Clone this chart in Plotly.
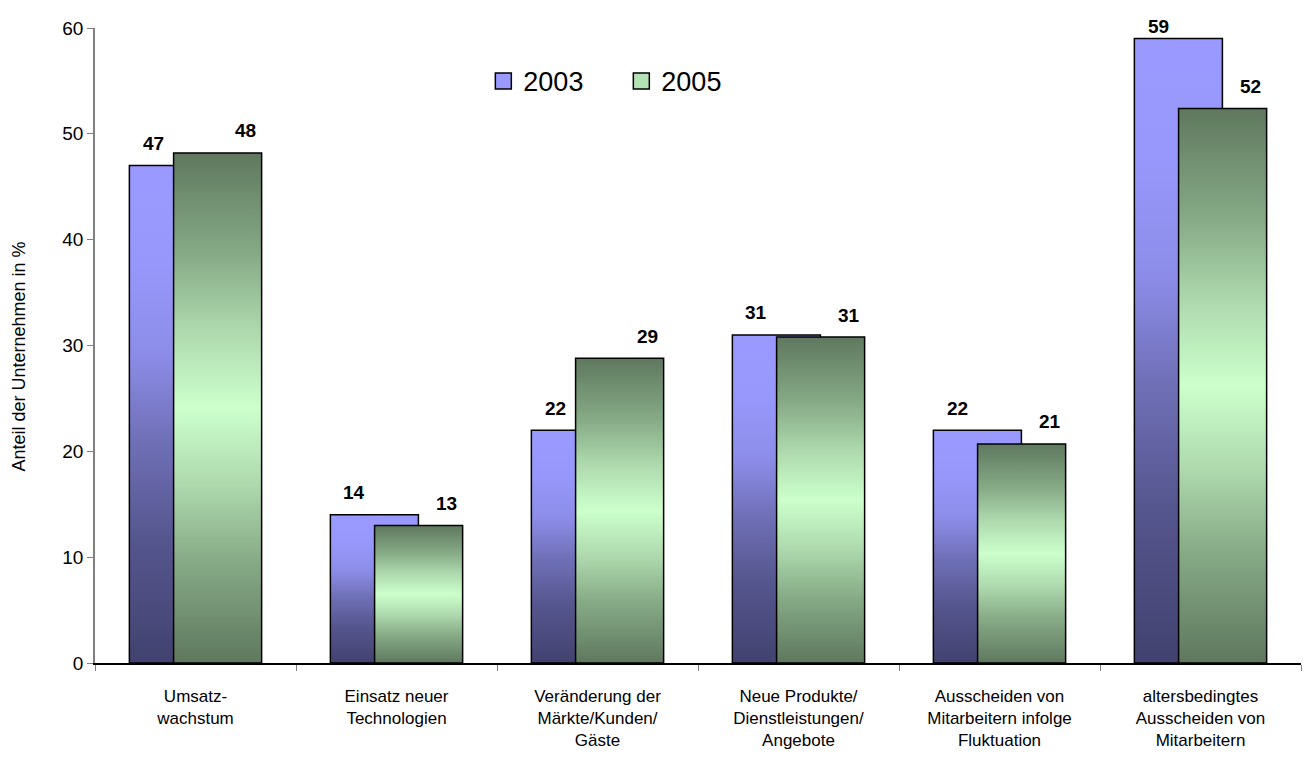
import plotly.graph_objects as go

categories = [
    "Umsatz-<br>wachstum",
    "Einsatz neuer<br>Technologien",
    "Veränderung der<br>Märkte/Kunden/<br>Gäste",
    "Neue Produkte/<br>Dienstleistungen/<br>Angebote",
    "Ausscheiden von<br>Mitarbeitern infolge<br>Fluktuation",
    "altersbedingtes<br>Ausscheiden von<br>Mitarbeitern",
]
series_names = ["2003", "2005"]
values_2003 = [47, 14, 22, 31, 22, 59]
values_2005 = [48.2, 13, 28.8, 30.8, 20.7, 52.4]
y_ticks = [0, 10, 20, 30, 40, 50, 60]
y_title = "Anteil der Unternehmen in %"

FONT = "Arial, Liberation Sans, sans-serif"
BAR_W = 0.438
BAR_OFF = 0.11
LABEL_OFF = {"2003": -0.21, "2005": 0.25}

# page body has an 8px margin -> compensate
PAGE_PAD = 8
W, H = 1311 - PAGE_PAD, 763 - PAGE_PAD
M_L, M_R, M_T, M_B = 95 - PAGE_PAD, 10, 21 - PAGE_PAD, 100
PLOT_H = H - M_T - M_B
Y_MAX = 60
PX_PER_UNIT = PLOT_H / Y_MAX

purple_scale = [[0, "#424270"], [0.25, "#56568f"], [0.45, "#7070b8"],
                [0.62, "#8c8ce8"], [0.8, "#9797fb"], [1, "#9999ff"]]
green_scale = [[0, "#5f785f"], [0.2, "#86aa86"], [0.35, "#aed9ae"],
               [0.5, "#ccffcc"], [0.65, "#aed9ae"], [0.8, "#86aa86"],
               [1, "#5f785f"]]

fig = go.Figure()

series = [
    ("2003", values_2003, -BAR_OFF, purple_scale, "#9999ff"),
    ("2005", values_2005, BAR_OFF, green_scale, "#b4e2b4"),
]

for name, vals, off, scale, legcol in series:
    for i, v in enumerate(vals):
        xc = i + off
        x0, x1 = xc - BAR_W / 2, xc + BAR_W / 2
        fig.add_trace(go.Scatter(
            x=[x0, x0, x1, x1, x0],
            y=[0, v, v, 0, 0],
            mode="lines",
            fill="toself",
            fillgradient=dict(type="vertical", colorscale=scale),
            line=dict(color="black", width=1.5),
            showlegend=False,
            hoverinfo="skip",
        ))
    # legend entry
    fig.add_trace(go.Scatter(
        x=[None], y=[None], mode="markers", name=name,
        marker=dict(symbol="square", size=17, color=legcol,
                    line=dict(color="black", width=1.5)),
    ))

# data labels
for name, vals in [("2003", values_2003), ("2005", values_2005)]:
    for i, v in enumerate(vals):
        shift = min(22, (Y_MAX - v) * PX_PER_UNIT + 1)
        fig.add_annotation(
            x=i + LABEL_OFF[name], y=v, yshift=shift,
            text=f"<b>{round(v):d}</b>", showarrow=False,
            font=dict(family=FONT, size=19, color="black"),
            xanchor="center", yanchor="middle",
        )

# y-axis title
fig.add_annotation(
    xref="paper", yref="paper", x=0, y=0.5, xshift=-77, yshift=-11,
    text=y_title, textangle=-90, showarrow=False,
    font=dict(family=FONT, size=18, color="black"),
    xanchor="center", yanchor="middle",
)

fig.update_layout(
    width=W, height=H,
    margin=dict(l=M_L, r=M_R, t=M_T, b=M_B),
    paper_bgcolor="white", plot_bgcolor="white",
    font=dict(family=FONT, color="black"),
    showlegend=True,
    legend=dict(
        orientation="h", x=0.322, y=0.916, xanchor="left", yanchor="middle",
        font=dict(family=FONT, size=27, color="black"),
        bgcolor="rgba(0,0,0,0)",
        entrywidth=93, entrywidthmode="pixels",
    ),
    xaxis=dict(
        range=[-0.5, len(categories) - 0.5],
        tickmode="array",
        tickvals=list(range(len(categories))),
        ticktext=categories,
        ticks="outside", ticklen=17, tickcolor="rgba(0,0,0,0)",
        tickfont=dict(family=FONT, size=17, color="black"),
        showgrid=False, zeroline=False,
        showline=True, linecolor="black", linewidth=1.5,
        minor=dict(tick0=0.5, dtick=1, ticks="outside", ticklen=6,
                   tickcolor="#808080", tickwidth=1, showgrid=False),
        fixedrange=True,
    ),
    yaxis=dict(
        range=[0, Y_MAX],
        tickmode="array", tickvals=y_ticks,
        ticks="outside", ticklen=6, tickcolor="#808080",
        tickfont=dict(family=FONT, size=19, color="black"),
        showgrid=False, zeroline=False,
        showline=True, linecolor="#808080", linewidth=1.5,
        fixedrange=True,
    ),
)

fig.write_html("out.html")
